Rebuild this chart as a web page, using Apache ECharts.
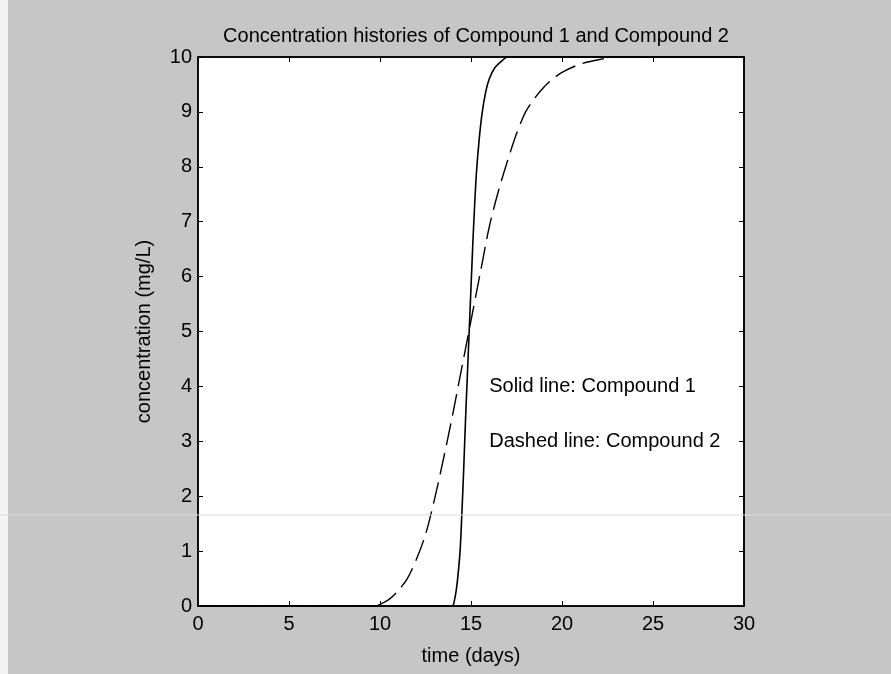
<!DOCTYPE html>
<html>
<head>
<meta charset="utf-8">
<script src="https://cdn.jsdelivr.net/npm/echarts@6/dist/echarts.min.js"></script>
<style>
html,body{margin:0;padding:0;background:#c6c6c6;}
#chart{width:891px;height:674px;}
</style>
</head>
<body>
<div id="chart"></div>
<script>
// Compound 1 (solid line)
var timeC1 = [0, 5, 10, 13.95, 14.1, 14.25, 14.4, 14.5, 14.6, 14.7, 14.8, 14.9, 15.0, 15.1, 15.2, 15.3, 15.45, 15.6, 15.8, 16.0, 16.3, 16.7, 17.0, 20, 25, 30];
var concC1 = [0, 0, 0, 0, 0.12, 0.45, 1.0, 1.7, 2.5, 3.4, 4.2, 5.0, 5.8, 6.6, 7.3, 7.9, 8.5, 8.95, 9.35, 9.6, 9.8, 9.93, 10, 10, 10, 10];
// Compound 2 (dashed line)
var timeC2 = [0, 5, 9.7, 10.0, 10.5, 11.0, 11.5, 12.0, 12.5, 13.0, 13.5, 14.0, 14.5, 15.0, 15.5, 16.0, 16.5, 17.0, 17.5, 18.0, 18.5, 19.0, 19.5, 20.0, 21.0, 22.0, 23, 25, 30];
var concC2 = [0, 0, 0, 0.03, 0.12, 0.28, 0.5, 0.85, 1.3, 1.95, 2.7, 3.5, 4.35, 5.2, 6.05, 6.9, 7.55, 8.1, 8.6, 9.0, 9.25, 9.45, 9.6, 9.72, 9.87, 9.95, 10, 10, 10];
// annotation texts
var noteX = [16, 16];
var noteY = [4, 3];
var noteText = ['Solid line: Compound 1', 'Dashed line: Compound 2'];
var xTicks = {min: 0, max: 30, interval: 5};
var yTicks = {min: 0, max: 10, interval: 1};

function pairs(xs, ys) { return xs.map(function (x, i) { return [x, ys[i]]; }); }

var FONT = '"Liberation Sans", Arial, sans-serif';
var chart = echarts.init(document.getElementById('chart'), null, {renderer: 'canvas'});

function axis(extra) {
  var a = {
    type: 'value',
    axisLine: {show: true, onZero: false, lineStyle: {color: '#000', width: 1.5}},
    axisTick: {show: true, inside: true, length: 5, lineStyle: {color: '#000', width: 1}},
    splitLine: {show: false}
  };
  for (var k in extra) a[k] = extra[k];
  return a;
}

chart.setOption({
  backgroundColor: '#c6c6c6',
  animation: false,
  title: {
    text: 'Concentration histories of Compound 1 and Compound 2',
    left: 471, top: 21, textAlign: 'center',
    textStyle: {fontFamily: FONT, fontSize: 20, fontWeight: 'normal', color: '#000'}
  },
  grid: {left: 198, right: 147, top: 57, bottom: 68, show: true, backgroundColor: '#fff', borderColor: '#000', borderWidth: 1.5},
  xAxis: [
    axis({
      min: xTicks.min, max: xTicks.max, interval: xTicks.interval, position: 'bottom',
      name: 'time (days)', nameLocation: 'middle', nameGap: 40,
      nameTextStyle: {fontFamily: FONT, fontSize: 20, color: '#000'},
      axisLabel: {margin: 8, fontFamily: FONT, fontSize: 20, color: '#000'}
    }),
    axis({
      min: xTicks.min, max: xTicks.max, interval: xTicks.interval, position: 'top',
      axisLabel: {show: false}
    })
  ],
  yAxis: [
    axis({
      min: yTicks.min, max: yTicks.max, interval: yTicks.interval, position: 'left',
      name: 'concentration (mg/L)', nameLocation: 'middle', nameGap: 44,
      nameTextStyle: {fontFamily: FONT, fontSize: 20, color: '#000'},
      axisLabel: {margin: 6, fontFamily: FONT, fontSize: 20, color: '#000'}
    }),
    axis({
      min: yTicks.min, max: yTicks.max, interval: yTicks.interval, position: 'right',
      axisLabel: {show: false}
    })
  ],
  series: [
    {
      name: 'Compound 1', type: 'line', data: pairs(timeC1, concC1),
      showSymbol: false, smooth: 0.3, clip: false,
      lineStyle: {color: '#000', width: 1.6, type: 'solid'}, z: 5
    },
    {
      name: 'Compound 2', type: 'line', data: pairs(timeC2, concC2),
      showSymbol: false, smooth: 0.3, clip: false,
      lineStyle: {color: '#000', width: 1.4, type: [22, 8]}, z: 4
    },
    {
      name: 'notes', type: 'scatter', symbolSize: 0,
      data: noteX.map(function (x, i) { return {value: [x, noteY[i]], label: {formatter: noteText[i]}}; }),
      label: {show: true, position: 'right', distance: 0, fontFamily: FONT, fontSize: 20, color: '#000', opacity: 1},
      itemStyle: {opacity: 1},
      silent: true
    }
  ],
  graphic: [
    {type: 'rect', left: 0, top: 0, shape: {width: 8, height: 674}, style: {fill: '#f4f4f4'}, z: 100},
    {type: 'line', shape: {x1: 0, y1: 515, x2: 891, y2: 515}, style: {stroke: '#dadada', lineWidth: 1}, z: 100}
  ]
});
</script>
</body>
</html>
